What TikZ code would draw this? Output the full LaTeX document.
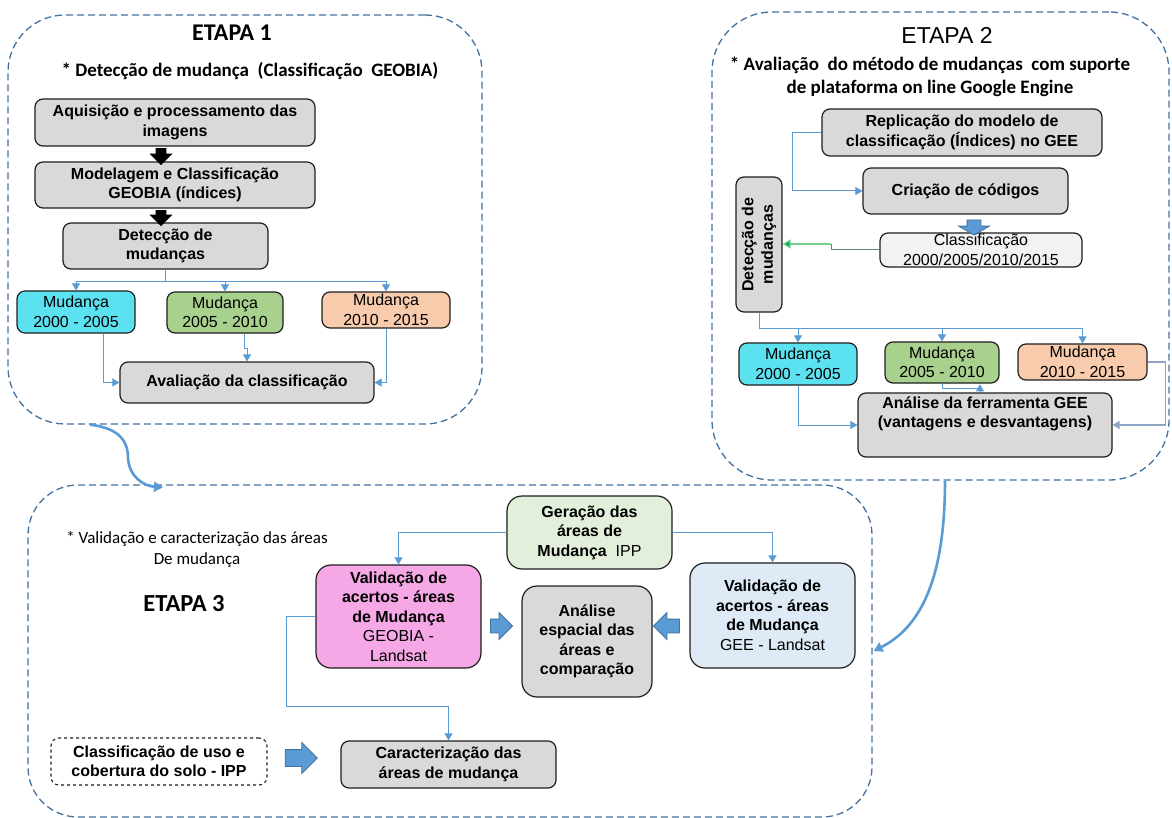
\documentclass[tikz,border=0pt]{standalone}
\usepackage{fontspec}
\setmainfont{Liberation Sans}
\newfontfamily\calib{Carlito}
\usetikzlibrary{shapes.arrows,arrows.meta,calc}

\definecolor{lnblue}{RGB}{91,155,213}
\definecolor{stageblue}{RGB}{68,114,160}
\definecolor{boxgray}{RGB}{217,217,217}
\definecolor{edge}{RGB}{30,30,30}
\definecolor{cyanfill}{RGB}{92,225,240}
\definecolor{greenfill}{RGB}{169,209,142}
\definecolor{peachfill}{RGB}{248,203,173}
\definecolor{pinkfill}{RGB}{246,168,230}
\definecolor{palegreen}{RGB}{226,239,218}
\definecolor{paleblue}{RGB}{222,235,247}
\definecolor{palegray}{RGB}{242,242,242}
\definecolor{arrowedge}{RGB}{65,113,156}
\definecolor{greenline}{RGB}{120,205,145}
\definecolor{greenhead}{RGB}{0,176,80}
\definecolor{darkgreenline}{RGB}{95,135,105}
\definecolor{greyblue}{RGB}{140,165,200}

\tikzset{
  box/.style={draw=edge, line width=1.2pt, rounded corners=8pt, fill=boxgray,
    align=center, inner sep=1pt, font=\fontsize{16}{19.5}\selectfont\bfseries},
  box3/.style={box, rounded corners=15pt},
  yearbox/.style={box, font=\fontsize{16}{19.5}\selectfont},
  stage/.style={draw=stageblue, line width=1.3pt, dash pattern=on 7pt off 4pt,
    rounded corners=#1, inner sep=0pt},
  conn/.style={draw=lnblue, line width=1pt},
  arr/.style={-{Triangle[width=8pt,length=7pt]}},
  barrow/.style n args={3}{single arrow, draw=arrowedge, fill=lnblue, line width=0.8pt,
    minimum height=#1, inner xsep=0pt, inner ysep=#2, single arrow head extend=#3},
  darrow/.style n args={3}{barrow={#1}{#2}{#3}, draw=black, fill=black},
  curve/.style={draw=lnblue, line width=2.6pt, -{Triangle[width=10pt,length=9pt]}},
}

\begin{document}
\begin{tikzpicture}[x=1pt,y=-1pt]
\useasboundingbox (0,0) rectangle (1172,818);
\fill[white] (0,0) rectangle (1172,818);

% three stage frames
\node[stage=57pt, minimum width=474pt, minimum height=409pt] (E1) at (245,219.5) {};
\node[stage=60pt, minimum width=457pt, minimum height=468pt] (E2) at (940.5,246) {};
\node[stage=50pt, minimum width=844pt, minimum height=332pt] (E3) at (450,651) {};

% titles
\node[font=\calib\bfseries\fontsize{24}{28}\selectfont] (t1) at (232,33) {ETAPA 1};
\node[font=\calib\bfseries\fontsize{19}{23}\selectfont] (s1) at (250,71) {* Detecção de mudança\ \ (Classificação\ \ GEOBIA)};
\node[font=\fontsize{23}{27}\selectfont] (t2) at (947,35) {ETAPA 2};
\node[font=\calib\bfseries\fontsize{19}{23}\selectfont, align=center] (s2) at (930,77) {* Avaliação\ \ do método de mudanças\ \ com suporte\\de plataforma on line Google Engine};
\node[font=\calib\fontsize{17}{21}\selectfont, align=center] (s3) at (197,549) {* Validação e caracterização das áreas\\De mudança};
\node[font=\calib\bfseries\fontsize{24.5}{28}\selectfont] (t3) at (184,604) {ETAPA 3};

% ---- stage 1 ----
\node[box, minimum width=280pt, minimum height=47pt] (A) at (175,122.5) {Aquisição e processamento das\\imagens};
\node[box, minimum width=280pt, minimum height=46pt] (B) at (175,185) {Modelagem e Classificação\\GEOBIA (índices)};
\node[box, minimum width=205pt, minimum height=46pt] (C) at (165.5,246) {Detecção de\\mudanças};
\node[yearbox, fill=cyanfill, minimum width=118pt, minimum height=42pt] (M1) at (76,312) {Mudança\\2000 - 2005};
\node[yearbox, fill=greenfill, minimum width=116pt, minimum height=41pt] (M2) at (225,312.5) {Mudança\\2005 - 2010};
\node[yearbox, fill=peachfill, minimum width=128pt, minimum height=36pt] (M3) at (386,310) {Mudança\\2010 - 2015};
\node[box, minimum width=254pt, minimum height=41pt] (Av) at (247,382.5) {Avaliação da classificação};

\node[darrow={16pt}{4.5pt}{5.5pt}, rotate=-90] (ba1) at (161,154) {};
\node[darrow={15pt}{4.5pt}{5.5pt}, rotate=-90] (ba2) at (161,215.5) {};

\draw[conn] (C.south) -- ++(0,12) coordinate (j1);
\draw[conn,arr] (j1) -| (M1.north);
\draw[conn,arr] (j1) -| (M2.north);
\draw[conn,arr] (j1) -| (M3.north);
\draw[conn,arr] ([xshift=27pt]M1.south) |- (Av.west);
\draw[conn,arr] ([xshift=19pt]M2.south) -- ++(0,15) -| (Av.north);
\draw[conn,arr] (M3.south) |- (Av.east);

% ---- stage 2 ----
\node[box, minimum width=280pt, minimum height=47pt] (R) at (962,132.5) {Replicação do modelo de\\classificação (Índices) no GEE};
\node[box, minimum width=205pt, minimum height=46pt] (Cr) at (965.5,191) {Criação de códigos};
\node[yearbox, fill=palegray, inner sep=0pt, minimum width=202pt, minimum height=34pt] (Cl) at (981,250) {Classificação\\2000/2005/2010/2015};
\node[box, rotate=90, minimum width=135pt, minimum height=46pt] (D) at (759,244.5) {Detecção de\\mudanças};
\node[yearbox, fill=cyanfill, minimum width=118pt, minimum height=42pt] (N1) at (798,364) {Mudança\\2000 - 2005};
\node[yearbox, fill=greenfill, minimum width=114pt, minimum height=41pt] (N2) at (942,362.5) {Mudança\\2005 - 2010};
\node[yearbox, fill=peachfill, minimum width=129pt, minimum height=36pt] (N3) at (1082.5,362) {Mudança\\2010 - 2015};
\node[box, minimum width=254pt, minimum height=64pt] (AG) at (985,425) {Análise da ferramenta GEE\\(vantagens e desvantagens)\\\strut};

\node[barrow={15pt}{6.5pt}{8.5pt}, single arrow tip angle=120, rotate=-90] (ba3) at (974,225.5) {};

\draw[conn,arr] (R.west) -- ++(-29,0) |- (Cr.west);
\draw[darkgreenline, line width=1pt] (Cl.west) -- ++(-48,0) -- ++(0,-6) coordinate (g1);
\draw[greenline, line width=1.2pt, -{Triangle[width=9pt,length=8pt,fill=greenhead]}] (g1) -- (D.south |- g1);
\draw[conn] (D.west) -- ++(0,16) coordinate (j2);
\draw[conn,arr] (j2) -| (N1.north);
\draw[conn,arr] (j2) -| (N2.north);
\draw[conn,arr] (j2) -| (N3.north);
\draw[conn,arr] (N1.south) |- (AG.west);
\draw[conn] (N2.south) -- ++(0,5) -| ([xshift=-5pt]AG.north);
\draw[conn,arr] ([xshift=-5pt]AG.north) -- ++(0,-8);
\draw[greyblue, line width=1.3pt, arr] (N3.east) -- ++(18,0) |- (AG.east);

% ---- stage 3 ----
\node[box3, fill=palegreen, minimum width=165pt, minimum height=73pt] (G) at (589.5,532.5) {Geração das\\áreas de\\Mudança\ \ \textmd{IPP}};
\node[box3, fill=pinkfill, minimum width=165pt, minimum height=103pt] (P) at (398.5,616.5) {Validação de\\acertos - áreas\\de Mudança\\\textmd{GEOBIA -}\\\textmd{Landsat}};
\node[box3, minimum width=130pt, minimum height=111pt] (AE) at (587,641.5) {Análise\\espacial das\\áreas e\\comparação};
\node[box3, fill=paleblue, minimum width=165pt, minimum height=105pt] (V) at (772.5,615.5) {Validação de\\acertos - áreas\\de Mudança\\\textmd{GEE - Landsat}};
\node[box, fill=white, dashed, line width=1.1pt, minimum width=216pt, minimum height=47pt] (CU) at (159,761.5) {Classificação de uso e\\cobertura do solo - IPP};
\node[box, minimum width=215pt, minimum height=47pt] (Ca) at (448.5,764.5) {Caracterização das\\áreas de mudança};

\node[barrow={22pt}{6.5pt}{6.5pt}] (ba4) at (498,626) {};
\node[barrow={26pt}{6.5pt}{6.5pt}, rotate=180] (ba5) at (670,626) {};
\node[barrow={32pt}{8pt}{7pt}] (ba6) at (297,758) {};

\draw[conn,arr] (G.west) -| (P.north);
\draw[conn,arr] (G.east) -| (V.north);
\draw[conn,arr] (P.west) -- ++(-29,0) -- ++(0,89.5) -| (Ca.north);

% links between stages
\draw[curve] ([xshift=-155pt]E1.south) .. controls (118,428) and (128,440) .. (128,458)
  .. controls (129,476) and (143,486) .. ([xshift=-287pt,yshift=-3pt]E3.north);
\draw[curve] ([xshift=4.5pt]E2.south) .. controls (945,570) and (925,625) .. ([xshift=1pt]E3.east);
\end{tikzpicture}
\end{document}
